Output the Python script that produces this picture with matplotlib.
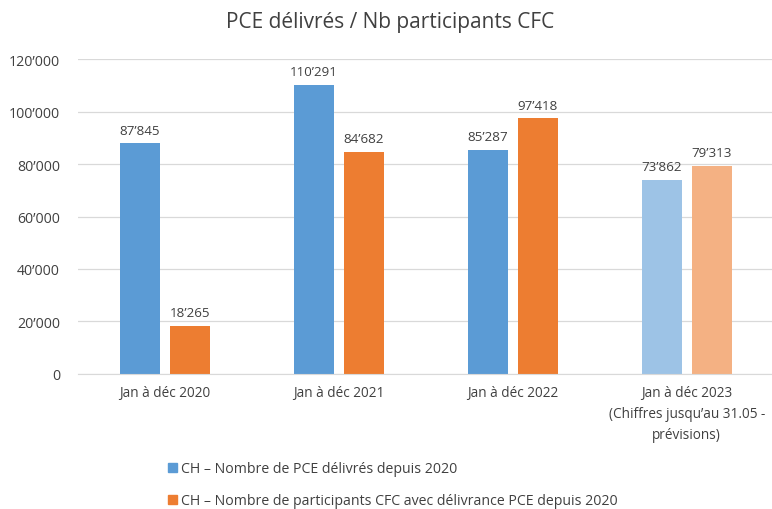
import matplotlib
import numpy as np

matplotlib.use("Agg")
import matplotlib.pyplot as plt  # noqa: E402
from matplotlib.patches import Patch  # noqa: E402

plt.rcParams["font.family"] = ["Open Sans", "DejaVu Sans"]

categories = ["Jan à déc 2020", "Jan à déc 2021", "Jan à déc 2022",
              "Jan à déc 2023\n(Chiffres jusqu’au 31.05 -\nprévisions)"]
pce = [87845, 110291, 85287, 73862]
participants = [18265, 84682, 97418, 79313]
legend_labels = ["CH – Nombre de PCE délivrés depuis 2020",
                 "CH – Nombre de participants CFC avec délivrance PCE depuis 2020"]

BLUE, ORANGE = "#5B9BD5", "#ED7D31"
BLUE_LT, ORANGE_LT = "#9DC3E6", "#F4B183"
TXT = "#404040"


def fmt(v):
    return f"{v:,}".replace(",", "’")


fig = plt.figure(figsize=(7.72, 5.10), dpi=100)
ax = fig.add_axes([0.101, 0.265, 0.899, 0.617])

x = np.arange(len(categories))
w, off = 0.23, 0.144
blue_cols = [BLUE, BLUE, BLUE, BLUE_LT]
orange_cols = [ORANGE, ORANGE, ORANGE, ORANGE_LT]
b1 = ax.bar(x - off, pce, width=w, color=blue_cols, zorder=2)
b2 = ax.bar(x + off, participants, width=w, color=orange_cols, zorder=2)
for bars, vals in ((b1, pce), (b2, participants)):
    for r, v in zip(bars, vals):
        ax.text(r.get_x() + r.get_width() / 2, v + 2600, fmt(v), ha="center", va="bottom",
                fontsize=9.6, color=TXT)

ax.set_xlim(-0.5, 3.49)
ax.set_ylim(0, 120000)
ax.set_yticks(range(0, 120001, 20000))
ax.set_yticklabels([fmt(v) for v in range(0, 120001, 20000)], fontsize=10.2, color=TXT)
ax.set_xticks(x)
ax.set_xticklabels(categories, fontsize=9.8, color=TXT, linespacing=1.55)
ax.tick_params(length=0, pad=13)
ax.tick_params(axis="x", pad=8)
ax.grid(axis="y", color="#D9D9D9", lw=0.9, zorder=0)
for sp in ["top", "right", "left"]:
    ax.spines[sp].set_visible(False)
ax.spines["bottom"].set_color("#D9D9D9")

fig.text(0.505, 0.955, "PCE délivrés / Nb participants CFC", ha="center", va="center",
         fontsize=15, color=TXT)

handles = [Patch(color=BLUE), Patch(color=ORANGE)]
fig.legend(handles, legend_labels, loc="upper left", bbox_to_anchor=(0.218, 0.094),
           frameon=False, fontsize=10.2, labelcolor=TXT, handlelength=0.6, handleheight=0.6,
           handletextpad=0.3, labelspacing=1.2, borderaxespad=0, borderpad=0)

fig.savefig("out.png", dpi=100)
